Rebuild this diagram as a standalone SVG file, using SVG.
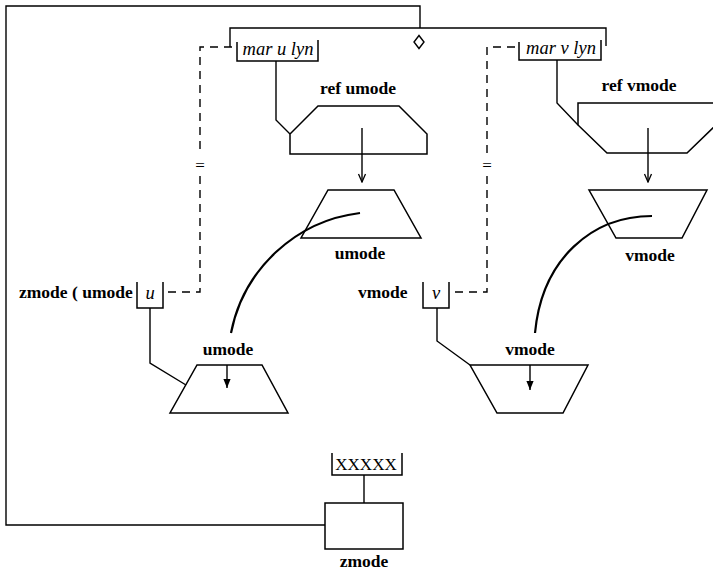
<svg xmlns="http://www.w3.org/2000/svg" width="713" height="571" viewBox="0 0 713 571">
<style>
.s{fill:none;stroke:#000;stroke-width:1.5;stroke-linejoin:miter}
.c{fill:none;stroke:#000;stroke-width:1.4}
.d{fill:none;stroke:#000;stroke-width:1.4;stroke-dasharray:8 6}
.cv{fill:none;stroke:#000;stroke-width:2.2}
.b{font-family:"Liberation Serif","Times New Roman",serif;font-weight:bold;font-size:17.5px;fill:#000}
.i{font-family:"Liberation Serif","Times New Roman",serif;font-style:italic;font-size:18.5px;fill:#000}
.r{font-family:"Liberation Serif","Times New Roman",serif;font-size:17px;fill:#000}
</style>
<defs>
<marker id="open" viewBox="0 0 10 10" refX="9" refY="5" markerWidth="10" markerHeight="10" markerUnits="userSpaceOnUse" orient="auto">
<path d="M1,1.5 L9,5 L1,8.5" fill="none" stroke="#000" stroke-width="1.3"/>
</marker>
<marker id="fill" viewBox="0 0 10 10" refX="10" refY="5" markerWidth="11" markerHeight="9" markerUnits="userSpaceOnUse" orient="auto">
<path d="M0,1 L10,5 L0,9 Z" fill="#000"/>
</marker>
</defs>
<rect width="713" height="571" fill="#fff"/>

<g id="connectors">
<path class="c" d="M325,525 H6 V6 H420 V28"/>
<path class="d" d="M232,47 H200 V155"/>
<path class="d" d="M200,176 V292 H165"/>
<path class="d" d="M515,47 H487 V155"/>
<path class="d" d="M487,176 V292 H451"/>
<path class="c" d="M276,61 V120 L290,134"/>
<path class="c" d="M557,60 V103 L578,125"/>
<path class="c" d="M150,308 V363 L186,385"/>
<path class="c" d="M437,308 V341 L470,365"/>
<path class="c" d="M364,475 V503"/>
<path class="c" d="M362,128 V182" marker-end="url(#open)"/>
<path class="c" d="M648,128 V182" marker-end="url(#open)"/>
<path class="c" d="M227,365 V388" marker-end="url(#fill)"/>
<path class="c" d="M530,365 V390" marker-end="url(#fill)"/>
<path class="cv" d="M360,213 A150,150 0 0 0 231,333"/>
<path class="cv" d="M652,216 C593,216 542,258 535,333"/>
<text class="r" x="200" y="171" text-anchor="middle" font-size="15">=</text>
<text class="r" x="487" y="171" text-anchor="middle" font-size="15">=</text>
</g>

<g id="par">
<path class="c" d="M230,47 V28 H606 V46"/>
<path class="c" d="M419,35.5 L424,42 L419,48.5 L414,42 Z"/>
</g>

<g id="mar-u-lyn">
<path class="s" d="M237,42 V61 H318 V40"/>
<text class="i" x="278" y="55" text-anchor="middle">mar u lyn</text>
</g>

<g id="mar-v-lyn">
<path class="s" d="M519,42 V60 H601 V40"/>
<text class="i" x="561" y="54" text-anchor="middle">mar v lyn</text>
</g>

<g id="ref-umode">
<polygon class="s" points="318,106 399,106 427,134 427,154 290,154 290,134"/>
<text class="b" x="358" y="94" text-anchor="middle">ref umode</text>
</g>

<g id="ref-vmode">
<polygon class="s" points="578,103 716,103 716,125 687,153 607,153 578,125"/>
<text class="b" x="639" y="91" text-anchor="middle">ref vmode</text>
</g>

<g id="umode-top">
<polygon class="s" points="328,190 394,190 421,238 301,238"/>
<text class="b" x="360" y="259" text-anchor="middle">umode</text>
</g>

<g id="vmode-top">
<polygon class="s" points="589,190 707,190 682,238 616,238"/>
<text class="b" x="650" y="261" text-anchor="middle">vmode</text>
</g>

<g id="u-box">
<text class="b" x="19" y="298">zmode ( umode</text>
<path class="s" d="M137,282 V308 H163 V282"/>
<text class="i" x="150" y="299" text-anchor="middle">u</text>
</g>

<g id="v-box">
<text class="b" x="358" y="298">vmode</text>
<path class="s" d="M423,282 V308 H449 V282"/>
<text class="i" x="436" y="299" text-anchor="middle">v</text>
</g>

<g id="umode-bottom">
<polygon class="s" points="197,365 262,365 288,413 170,413"/>
<text class="b" x="228" y="355" text-anchor="middle">umode</text>
</g>

<g id="vmode-bottom">
<polygon class="s" points="470,365 588,365 563,413 497,413"/>
<text class="b" x="530" y="355" text-anchor="middle">vmode</text>
</g>

<g id="xxxxx">
<path class="s" d="M332,453 V475 H402 V453"/>
<text class="r" x="366" y="470" text-anchor="middle">XXXXX</text>
</g>

<g id="zmode">
<rect class="s" x="325" y="503" width="78" height="46"/>
<text class="b" x="364" y="567" text-anchor="middle">zmode</text>
</g>
</svg>
